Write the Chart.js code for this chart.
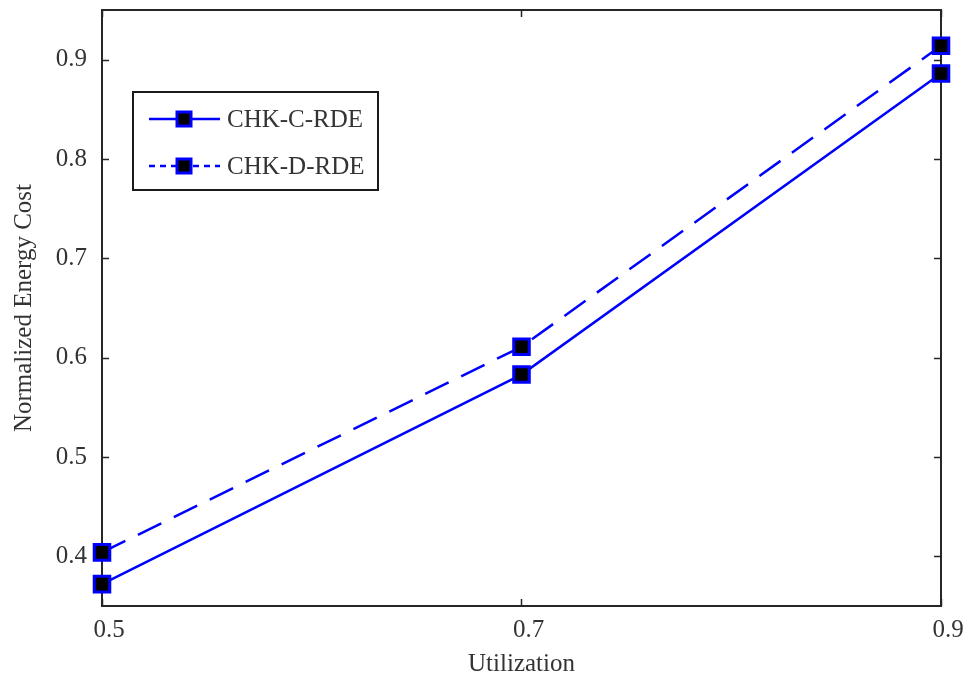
<!DOCTYPE html>
<html>
<head>
<meta charset="utf-8">
<script src="https://cdn.jsdelivr.net/npm/chart.js@4.4.1/dist/chart.umd.min.js"></script>
<style>
  html, body { margin: 0; padding: 0; background: #fff; }
  #wrap { width: 971px; height: 681px; }
</style>
</head>
<body>
<div id="wrap"><canvas id="energy"></canvas></div>
<script>
// utilization levels and normalized energy cost per scheme
const utilization = [0.5, 0.7, 0.9];
const chkC = [0.372, 0.583, 0.886];
const chkD = [0.404, 0.611, 0.914];
const seriesNames = ['CHK-C-RDE', 'CHK-D-RDE'];
const xTicks = [0.5, 0.7, 0.9];
const yTicks = [0.4, 0.5, 0.6, 0.7, 0.8, 0.9];

const serif = '"Liberation Serif", "Times New Roman", serif';
const blue = '#0000ff';
const textGray = '#333';

function toPoints(values) {
    return utilization.map((u, i) => ({ x: u, y: values[i] }));
}

// box round the plot with matlab style inward ticks, under the markers
const boxPlugin = {
    id: 'box',
    beforeDatasetsDraw(chart) {
        const { ctx, chartArea: a, scales } = chart;
        ctx.save();
        ctx.strokeStyle = '#262626';
        ctx.lineWidth = 2;
        ctx.strokeRect(a.left, a.top, a.right - a.left, a.bottom - a.top);
        ctx.lineWidth = 1.5;
        ctx.beginPath();
        for (const v of yTicks) {
            const y = Math.round(scales.y.getPixelForValue(v)) + 0.5;
            ctx.moveTo(a.left, y); ctx.lineTo(a.left + 7, y);
            ctx.moveTo(a.right, y); ctx.lineTo(a.right - 7, y);
        }
        for (const v of xTicks) {
            const x = Math.round(scales.x.getPixelForValue(v)) + 0.5;
            ctx.moveTo(x, a.bottom); ctx.lineTo(x, a.bottom - 7);
            ctx.moveTo(x, a.top); ctx.lineTo(x, a.top + 7);
        }
        ctx.stroke();
        ctx.restore();
    }
};

// legend box in the upper left, line sample with marker then name
const legendPlugin = {
    id: 'boxLegend',
    afterDraw(chart) {
        const { ctx } = chart;
        const bx = 133, by = 92, bw = 245, bh = 98;
        ctx.save();
        ctx.fillStyle = '#fff';
        ctx.fillRect(bx, by, bw, bh);
        ctx.strokeStyle = '#1a1a1a';
        ctx.lineWidth = 2;
        ctx.strokeRect(bx, by, bw, bh);
        const rows = [119, 166];
        const dashes = [[], [6, 5]];
        rows.forEach((y, i) => {
            ctx.strokeStyle = blue;
            ctx.lineWidth = 2.5;
            ctx.setLineDash(dashes[i]);
            ctx.beginPath();
            ctx.moveTo(149, y); ctx.lineTo(220, y);
            ctx.stroke();
            ctx.setLineDash([]);
            ctx.fillStyle = '#000';
            ctx.lineWidth = 3;
            ctx.fillRect(177, y - 7, 14, 14);
            ctx.strokeRect(177, y - 7, 14, 14);
            ctx.fillStyle = textGray;
            ctx.font = '25px ' + serif;
            ctx.textBaseline = 'middle';
            ctx.fillText(seriesNames[i], 227, y + 1);
        });
        ctx.restore();
    }
};

const markerStyle = {
    borderColor: blue,
    borderWidth: 2.5,
    pointStyle: 'rect',
    pointRadius: 11,
    pointBackgroundColor: '#000',
    pointBorderColor: blue,
    pointBorderWidth: 3,
    tension: 0
};

new Chart(document.getElementById('energy'), {
    type: 'line',
    data: {
        datasets: [
            Object.assign({ label: seriesNames[0], data: toPoints(chkC) }, markerStyle),
            Object.assign({ label: seriesNames[1], data: toPoints(chkD), borderDash: [26, 14] }, markerStyle)
        ]
    },
    options: {
        responsive: true,
        maintainAspectRatio: false,
        animation: false,
        clip: false,
        layout: { autoPadding: false, padding: { left: 0, right: 30, top: 10, bottom: 0 } },
        plugins: {
            legend: { display: false },
            tooltip: { enabled: false }
        },
        scales: {
            x: {
                type: 'linear',
                min: 0.5,
                max: 0.9,
                afterBuildTicks(scale) { scale.ticks = xTicks.map(v => ({ value: v })); },
                afterFit(scale) { scale.height = 75; },
                grid: { display: false },
                border: { display: false },
                ticks: {
                    color: textGray,
                    font: { family: serif, size: 25 },
                    padding: 1,
                    labelOffset: 7,
                    maxRotation: 0,
                    callback: v => v.toFixed(1)
                },
                title: {
                    display: true,
                    text: 'Utilization',
                    color: textGray,
                    font: { family: serif, size: 25 },
                    padding: { top: 0, bottom: 2 }
                }
            },
            y: {
                min: 0.35,
                max: 0.95,
                afterBuildTicks(scale) { scale.ticks = yTicks.map(v => ({ value: v })); },
                afterFit(scale) {
                    scale.width = 102;
                    // top tick sits well below the edge, no room needed for its label
                    scale.paddingTop = 0;
                    scale.paddingBottom = 0;
                },
                grid: { display: false },
                border: { display: false },
                ticks: {
                    color: textGray,
                    font: { family: serif, size: 25 },
                    padding: 7,
                    callback: v => v.toFixed(1)
                },
                title: {
                    display: true,
                    text: 'Normalized Energy Cost',
                    color: textGray,
                    font: { family: serif, size: 25 },
                    padding: { top: 9, bottom: 0 }
                }
            }
        }
    },
    plugins: [boxPlugin, legendPlugin]
});
</script>
</body>
</html>
